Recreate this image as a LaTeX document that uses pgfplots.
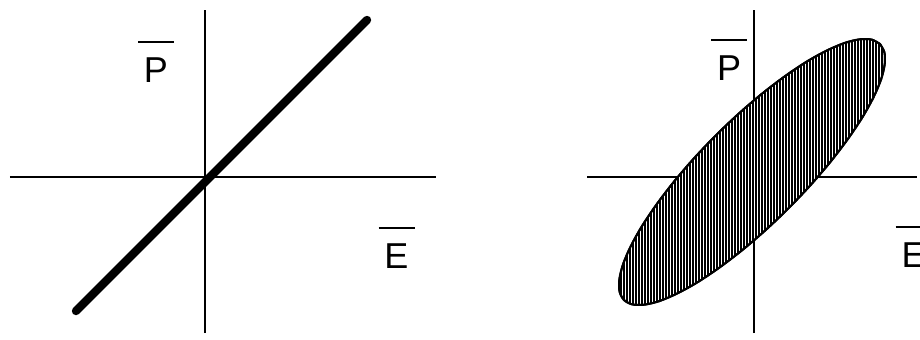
\documentclass[border=0pt]{standalone}
\usepackage{fontspec}
\setmainfont{Liberation Sans}
\usepackage{pgfplots}
\pgfplotsset{compat=1.18}
\usetikzlibrary{patterns.meta}

% barred axis symbol: a rule set above the letter
\newcommand{\barsym}[1]{{\fontsize{18}{17.4}\selectfont
  \begin{tabular}[b]{@{}c@{}}\rule{18pt}{0.9pt}\\[1.8pt]#1\end{tabular}}}

\pgfplotsset{
  quadrant/.style={
    axis lines=middle,
    axis on top=false,
    axis line style={-, line width=1pt},
    every inner x axis line/.append style={-},
    every inner y axis line/.append style={-},
    ticks=none,
    scale only axis,
    clip=false,
    anchor=origin,
  },
}

\begin{document}
\begin{tikzpicture}
\useasboundingbox (0,-169.5pt) rectangle (460pt,0);

% left: a single straight relation
\begin{axis}[quadrant,
  at={(102.5pt,-88.5pt)},
  xmin=-195, xmax=231, ymin=-156, ymax=167,
  width=213pt, height=161.5pt]
  \addplot[black, line width=4.2pt, line cap=round] coordinates {(-129,-134) (162,157)};
  \node[anchor=base, inner sep=0pt] at (axis cs:-49,95) {\barsym{P}};
  \node[anchor=base, inner sep=0pt] at (axis cs:191.5,-91) {\barsym{E}};
\end{axis}

% right: a hatched elliptical band
\begin{axis}[quadrant,
  at={(377pt,-88.5pt)},
  xmin=-167, xmax=163, ymin=-156, ymax=167,
  width=165pt, height=161.5pt]
  \addplot[draw=black, line width=1pt, smooth,
    preaction={fill=white},
    pattern={Lines[angle=90, distance=1.5pt, line width=0.72pt]}, pattern color=black]
    coordinates {
    (126,133) (117.7,137.4) (105.8,137.7) (90.7,134.1) (72.6,126.4) (52.4,115.2)
    (30.5,100.5) (7.6,83.0) (-15.6,63.1) (-38.4,41.4) (-60.1,18.6) (-80.0,-4.6)
    (-97.5,-27.5) (-112.2,-49.4) (-123.5,-69.7) (-131.1,-87.7) (-134.7,-102.8) (-134.4,-114.7)
    (-130,-123) (-121.7,-127.4) (-109.8,-127.7) (-94.7,-124.1) (-76.6,-116.4) (-56.4,-105.2)
    (-34.5,-90.5) (-11.6,-73.0) (11.6,-53.1) (34.4,-31.4) (56.1,-8.6) (76.0,14.6)
    (93.5,37.5) (108.2,59.4) (119.5,79.7) (127.1,97.7) (130.7,112.8) (130.4,124.7)
    (126,133)};
  \node[anchor=base, inner sep=0pt] at (axis cs:-25,97) {\barsym{P}};
  \node[anchor=base, inner sep=0pt] at (axis cs:159.5,-90) {\barsym{E}};
\end{axis}
\end{tikzpicture}
\end{document}
